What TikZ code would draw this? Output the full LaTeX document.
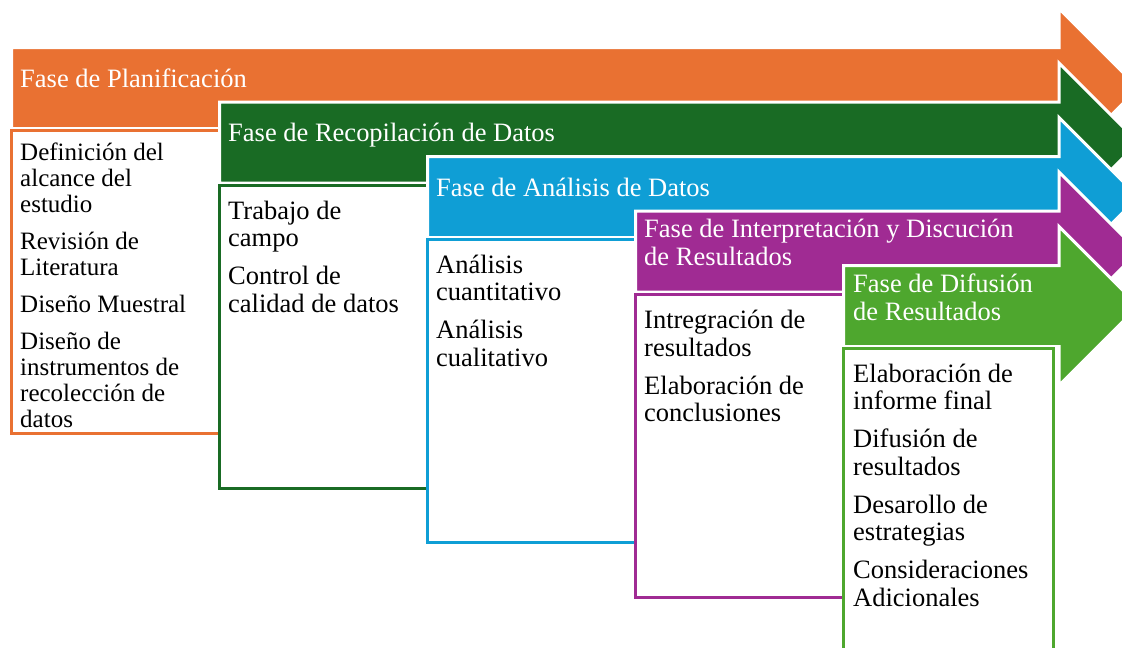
\documentclass[tikz,border=0pt]{standalone}
\usepackage{fontspec}
\setmainfont{Liberation Serif}

\definecolor{planif}{HTML}{E97132}
\definecolor{recop}{HTML}{196B24}
\definecolor{anal}{HTML}{0F9ED5}
\definecolor{interp}{HTML}{A02B93}
\definecolor{difus}{HTML}{4EA72E}

\begin{document}
\begin{tikzpicture}[x=1pt, y=-1pt,
    title/.style={anchor=north west, inner sep=0pt, align=left, text=white,
      font=\fontsize{26.5}{28}\selectfont, execute at begin node={\rule{0pt}{23pt}}},
    items/.style={anchor=north west, inner sep=0pt, align=left,
      font=\fontsize{26.5}{27.5}\selectfont, execute at begin node={\rule{0pt}{23pt}}}]
  \useasboundingbox (0, 0) rectangle (1122, 648);
  \clip (0, 0) rectangle (1122, 648);

  % arrows and boxes, one per phase
  \foreach \i/\col in {0/planif, 1/recop, 2/anal, 3/interp, 4/difus} {
    \pgfmathsetmacro\xl{11.5 + 208*\i}
    \pgfmathsetmacro\yt{47.5 + 54.5*\i}
    \pgfmathsetmacro\yb{\yt + 81}
    \filldraw[fill=\col, draw=white, line width=3pt]
      (\xl, \yt) -- (1059, \yt) -- (1059, \yt - 39) -- (1138.5, \yt + 40.5)
      -- (1059, \yb + 39) -- (1059, \yb) -- (\xl, \yb) -- cycle;
    \draw[\col, fill=white, line width=3pt]
      (\xl, \yb + 2) rectangle (\xl + 209.5, \yb + 305);
  }

  \node[title] (T1) at (20, 64) {Fase de Planificación};
  \node[title] (T2) at (228, 118.5) {Fase de Recopilación de Datos};
  \node[title] (T3) at (436, 173) {Fase de Análisis de Datos};
  \node[title] (T4) at (644, 219) {Fase de Interpretación y Discución\\de Resultados};
  \node[title] (T5) at (853, 273.5) {Fase de Difusión\\de Resultados};

  \node[items, font=\fontsize{25}{26}\selectfont] (L1) at (20, 143) {
    Definición del\\alcance del\\estudio\\[11pt]
    Revisión de\\Literatura\\[11pt]
    Diseño Muestral\\[11pt]
    Diseño de\\instrumentos de\\recolección de\\datos
  };
  \node[items] (L2) at (228, 200.5) {
    Trabajo de\\campo\\[10.5pt]
    Control de\\calidad de datos
  };
  \node[items] (L3) at (436, 254.5) {
    Análisis\\cuantitativo\\[10.5pt]
    Análisis\\cualitativo
  };
  \node[items] (L4) at (644, 310) {
    Intregración de\\resultados\\[10.5pt]
    Elaboración de\\conclusiones
  };
  \node[items] (L5) at (853, 363.5) {
    Elaboración de\\informe final\\[10.5pt]
    Difusión de\\resultados\\[10.5pt]
    Desarollo de\\estrategias\\[10.5pt]
    Consideraciones\\Adicionales
  };
\end{tikzpicture}
\end{document}
